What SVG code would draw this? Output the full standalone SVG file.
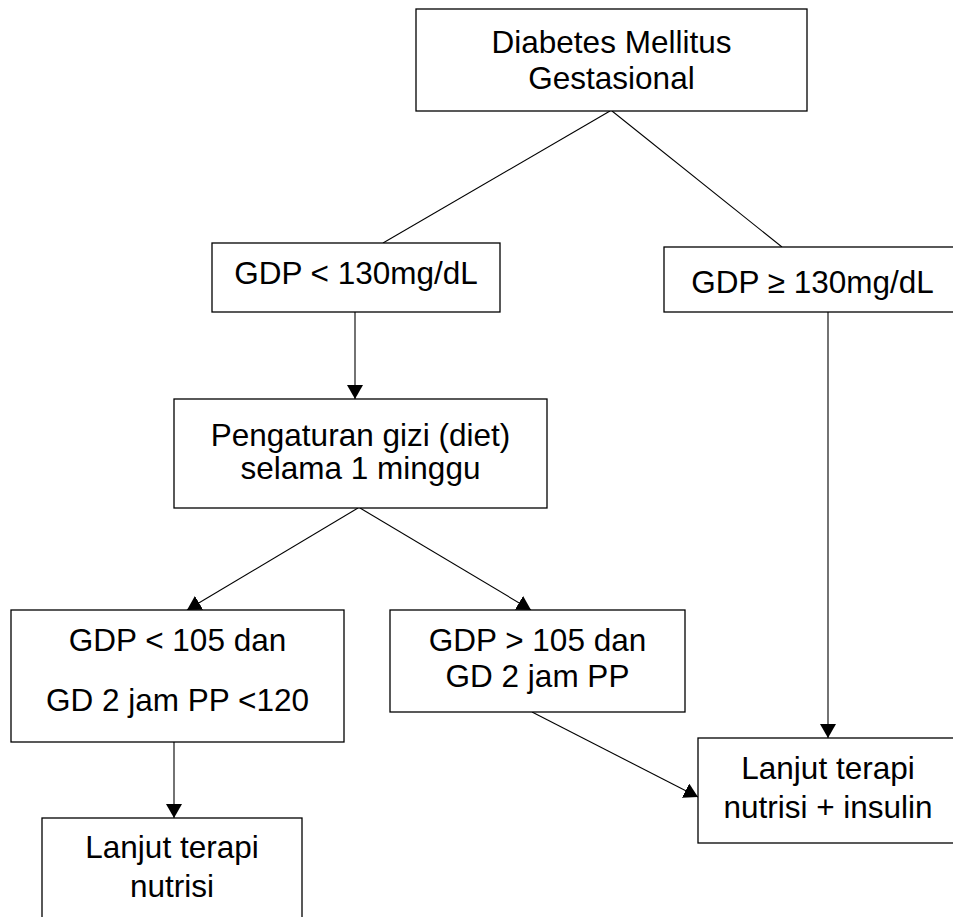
<svg xmlns="http://www.w3.org/2000/svg" width="953" height="917" viewBox="0 0 953 917">
<defs>
<style>
.box{fill:#fff;stroke:#000;stroke-width:1.3}
.t{font-family:"Liberation Sans",Arial,sans-serif;font-size:31.5px;fill:#000;text-anchor:middle}
.c{stroke:#000;stroke-width:1.1;fill:none}
</style>
<marker id="ah" markerUnits="userSpaceOnUse" markerWidth="15" markerHeight="16" refX="14" refY="8" orient="auto">
<path d="M0,0 L14,8 L0,16 z" fill="#000"/>
</marker>
</defs>
<rect width="953" height="917" fill="#fff"/>
<g id="connectors">
<line class="c" x1="610" y1="111" x2="383" y2="243"/>
<line class="c" x1="612" y1="111" x2="782" y2="247"/>
<line class="c" x1="355" y1="312" x2="355" y2="399" marker-end="url(#ah)"/>
<line class="c" x1="828" y1="312" x2="828" y2="738" marker-end="url(#ah)"/>
<line class="c" x1="358" y1="508" x2="187" y2="610" marker-end="url(#ah)"/>
<line class="c" x1="360" y1="508" x2="531" y2="610" marker-end="url(#ah)"/>
<line class="c" x1="174" y1="742" x2="174" y2="818" marker-end="url(#ah)"/>
<line class="c" x1="532" y1="712" x2="698" y2="797" marker-end="url(#ah)"/>
</g>
<g id="dmg">
<rect class="box" x="416" y="9" width="391" height="102"/>
<text class="t" x="611.5" y="53">Diabetes Mellitus</text>
<text class="t" x="611.5" y="89">Gestasional</text>
</g>
<g id="gdp-low">
<rect class="box" x="212" y="243" width="288" height="69"/>
<text class="t" x="356" y="284">GDP &lt; 130mg/dL</text>
</g>
<g id="gdp-high">
<rect class="box" x="664" y="247" width="297" height="65"/>
<text class="t" x="812.5" y="293">GDP ≥ 130mg/dL</text>
</g>
<g id="diet">
<rect class="box" x="174" y="399" width="373" height="109"/>
<text class="t" x="360.5" y="446">Pengaturan gizi (diet)</text>
<text class="t" x="360.5" y="479">selama 1 minggu</text>
</g>
<g id="gdp-105-low">
<rect class="box" x="11" y="610" width="333" height="132"/>
<text class="t" x="177.5" y="651">GDP &lt; 105 dan</text>
<text class="t" x="177.5" y="711">GD 2 jam PP &lt;120</text>
</g>
<g id="gdp-105-high">
<rect class="box" x="390" y="610" width="295" height="102"/>
<text class="t" x="537.5" y="651">GDP &gt; 105 dan</text>
<text class="t" x="537.5" y="687">GD 2 jam PP</text>
</g>
<g id="nutrisi-insulin">
<rect class="box" x="698" y="738" width="260" height="105"/>
<text class="t" x="828" y="779">Lanjut terapi</text>
<text class="t" x="828" y="818">nutrisi + insulin</text>
</g>
<g id="nutrisi">
<rect class="box" x="42" y="818" width="260" height="110"/>
<text class="t" x="172" y="858">Lanjut terapi</text>
<text class="t" x="172" y="897">nutrisi</text>
</g>
</svg>
